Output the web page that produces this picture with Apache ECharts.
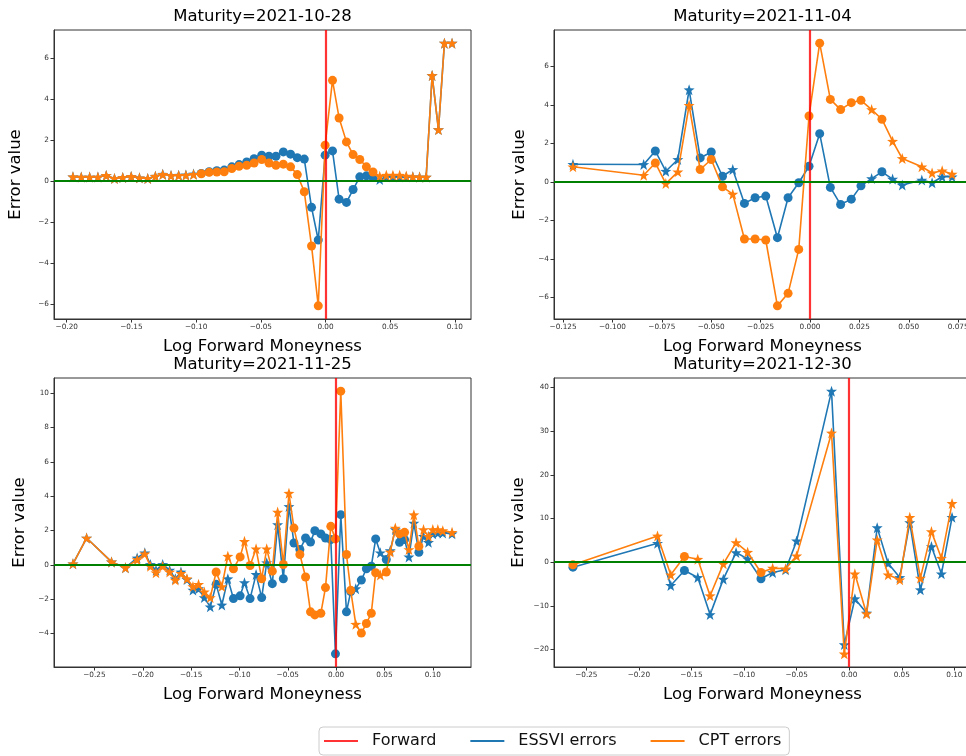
<!DOCTYPE html>
<html>
<head>
<meta charset="utf-8">
<script src="https://cdn.jsdelivr.net/npm/echarts@6/dist/echarts.min.js"></script>
<style>
  html, body { margin: 0; padding: 0; background: #fff; }
  #chart { width: 966px; height: 756px; }
</style>
</head>
<body>
<div id="chart"></div>
<script>
// ---- Maturity 2021-10-28 ----
const x1028 = [-0.1952, -0.1888, -0.1823, -0.1759, -0.1695, -0.1631, -0.1567, -0.1502, -0.1438, -0.1374,
  -0.1315, -0.1258, -0.1194, -0.1135, -0.1079, -0.1020, -0.0960, -0.0899, -0.0840, -0.0783,
  -0.0724, -0.0668, -0.0609, -0.0552, -0.0493, -0.0437, -0.0383, -0.0326, -0.0270, -0.0218,
  -0.0164, -0.0108, -0.0056, -0.0003, 0.0054, 0.0105, 0.0162, 0.0213, 0.0265, 0.0316,
  0.0367, 0.0419, 0.0470, 0.0521, 0.0573, 0.0624, 0.0675, 0.0727, 0.0778, 0.0824,
  0.0873, 0.0919, 0.0978];
const essvi1028 = [0.21, 0.20, 0.20, 0.20, 0.28, 0.13, 0.18, 0.23, 0.16, 0.13,
  0.24, 0.34, 0.28, 0.29, 0.30, 0.35, 0.38, 0.46, 0.51, 0.54,
  0.70, 0.81, 0.94, 1.10, 1.27, 1.22, 1.22, 1.43, 1.32, 1.15,
  1.08, -1.28, -2.88, 1.27, 1.48, -0.88, -1.04, -0.41, 0.21, 0.26,
  0.18, 0.08, 0.21, 0.21, 0.21, 0.21, 0.21, 0.20, 0.20, 5.17,
  2.52, 6.75, 6.75];
const cpt1028 = [0.21, 0.20, 0.20, 0.20, 0.28, 0.13, 0.18, 0.23, 0.16, 0.13,
  0.24, 0.33, 0.27, 0.28, 0.29, 0.33, 0.36, 0.43, 0.45, 0.46,
  0.62, 0.73, 0.78, 0.89, 1.06, 0.89, 0.78, 0.83, 0.70, 0.32,
  -0.52, -3.17, -6.10, 1.76, 4.93, 3.09, 1.92, 1.30, 1.06, 0.70,
  0.45, 0.24, 0.29, 0.29, 0.29, 0.25, 0.21, 0.20, 0.20, 5.17,
  2.52, 6.75, 6.75];
// marker per point: 'o' circle, '*' star
const mkEssvi1028 = '****************' + 'ooooooooooooooooooooooooo' + '************';
const mkCpt1028 = mkEssvi1028;

// ---- Maturity 2021-11-04 ----
const x1104 = [-0.1200, -0.0842, -0.0783, -0.0730, -0.0669, -0.0612, -0.0556, -0.0500, -0.0443, -0.0391,
  -0.0332, -0.0278, -0.0224, -0.0165, -0.0111, -0.0057, -0.0005, 0.0049, 0.0103, 0.0155,
  0.0209, 0.0258, 0.0312, 0.0364, 0.0418, 0.0467, 0.0566, 0.0618, 0.0669, 0.0719];
const essvi1104 = [0.92, 0.91, 1.61, 0.56, 1.17, 4.79, 1.25, 1.56, 0.30, 0.65,
  -1.11, -0.82, -0.73, -2.89, -0.82, -0.04, 0.82, 2.51, -0.28, -1.17,
  -0.89, -0.20, 0.18, 0.53, 0.15, -0.16, 0.10, -0.04, 0.27, 0.27];
const cpt1104 = [0.79, 0.35, 0.99, -0.08, 0.53, 3.98, 0.65, 1.17, -0.25, -0.63,
  -2.96, -2.96, -3.01, -6.43, -5.78, -3.50, 3.43, 7.21, 4.29, 3.76,
  4.12, 4.24, 3.76, 3.26, 2.12, 1.22, 0.79, 0.47, 0.58, 0.41];
const mkEssvi1104 = '**o***ooo*oooooooooooo*o******';
const mkCpt1104 = mkEssvi1104;

// ---- Maturity 2021-11-25 ----
const x1125 = [-0.2722, -0.2581, -0.2323, -0.2179, -0.2058, -0.1979, -0.1921, -0.1863, -0.1794, -0.1722,
  -0.1663, -0.1605, -0.1543, -0.1481, -0.1423, -0.1364, -0.1302, -0.1241, -0.1182, -0.1120,
  -0.1062, -0.0993, -0.0948, -0.0890, -0.0828, -0.0770, -0.0718, -0.0660, -0.0605, -0.0546,
  -0.0488, -0.0436, -0.0375, -0.0316, -0.0265, -0.0220, -0.0158, -0.0110, -0.0055, -0.0007,
  0.0048, 0.0107, 0.0151, 0.0203, 0.0261, 0.0313, 0.0364, 0.0409, 0.0457, 0.0519,
  0.0560, 0.0612, 0.0656, 0.0708, 0.0753, 0.0804, 0.0856, 0.0904, 0.0955, 0.1000,
  0.1052, 0.1103, 0.1199];
const essvi1125 = [0.06, 1.56, 0.17, -0.17, 0.40, 0.70, 0.02, -0.31, 0.02, -0.31,
  -0.81, -0.42, -0.85, -1.47, -1.39, -1.91, -2.45, -1.14, -2.34, -0.81,
  -1.97, -1.81, -1.04, -1.97, -0.56, -1.91, 0.12, -1.10, 2.34, -0.81,
  3.40, 1.27, 0.89, 1.56, 1.33, 1.99, 1.80, 1.56, 1.47, -5.19,
  2.92, -2.74, -1.56, -1.39, -0.89, -0.23, -0.08, 1.51, 0.70, 0.31,
  0.83, 2.05, 1.31, 1.47, 0.46, 2.43, 0.73, 1.66, 1.31, 1.81,
  1.85, 1.85, 1.81];
const cpt1125 = [0.06, 1.56, 0.17, -0.17, 0.30, 0.64, -0.08, -0.46, -0.08, -0.42,
  -0.89, -0.50, -0.81, -1.27, -1.14, -1.58, -1.91, -0.42, -1.27, 0.50,
  -0.23, 0.46, 1.37, -0.04, 0.93, -0.81, 0.93, -0.37, 3.07, 0.02,
  4.17, 2.14, 0.60, -0.71, -2.74, -2.92, -2.82, -1.33, 2.24, 1.51,
  10.12, 0.60, -1.49, -3.46, -3.98, -3.42, -2.82, -0.46, -0.60, -0.42,
  0.75, 2.14, 1.80, 1.89, 0.89, 2.92, 1.08, 2.05, 1.66, 2.05,
  2.05, 1.99, 1.89];
const mkEssvi1125 = '*****************o*' + '*oo*o*o*o*o*' + 'oooooooooooo' + '*oooo*o**oo**o*****';
const mkCpt1125 = mkEssvi1125;

// ---- Maturity 2021-12-30 ----
const x1230 = [-0.2627, -0.1823, -0.1697, -0.1567, -0.1440, -0.1323, -0.1197, -0.1076, -0.0966, -0.0839,
  -0.0728, -0.0605, -0.0500, -0.0168, -0.0047, 0.0054, 0.0165, 0.0266, 0.0370, 0.0481,
  0.0576, 0.0677, 0.0782, 0.0877, 0.0978];
const essvi1230 = [-1.14, 4.33, -5.32, -1.90, -3.50, -12.0, -3.88, 2.20, 0.76, -3.80,
  -2.36, -1.75, 4.87, 39.16, -18.86, -8.37, -11.63, 7.91, -0.23, -3.50,
  9.05, -6.31, 3.57, -2.66, 10.27];
const cpt1230 = [-0.61, 6.00, -2.89, 1.29, 0.68, -7.68, -0.38, 4.49, 2.28, -2.36,
  -1.37, -1.52, 1.44, 29.58, -20.99, -2.66, -11.79, 5.10, -2.89, -4.03,
  10.27, -3.65, 7.00, 0.91, 13.46];
const mkEssvi1230 = 'o**o*****o***************';
const mkCpt1230 = mkEssvi1230;

// ---- tick positions ----
const xTicks1028 = [-0.20, -0.15, -0.10, -0.05, 0.00, 0.05, 0.10];
const yTicks1028 = [-6, -4, -2, 0, 2, 4, 6];
const xTicks1104 = [-0.125, -0.100, -0.075, -0.050, -0.025, 0.000, 0.025, 0.050, 0.075];
const yTicks1104 = [-6, -4, -2, 0, 2, 4, 6];
const xTicks1125 = [-0.25, -0.20, -0.15, -0.10, -0.05, 0.00, 0.05, 0.10];
const yTicks1125 = [-4, -2, 0, 2, 4, 6, 8, 10];
const xTicks1230 = [-0.25, -0.20, -0.15, -0.10, -0.05, 0.00, 0.05, 0.10];
const yTicks1230 = [-20, -10, 0, 10, 20, 30, 40];

const maturities = ['2021-10-28', '2021-11-04', '2021-11-25', '2021-12-30'];
const legendNames = ['Forward', 'ESSVI errors', 'CPT errors'];

// ---- styling ----
const FONT = 'DejaVu Sans';
const BLUE = '#1f77b4';
const ORANGE = '#ff7f0e';
const RED = 'rgba(255,0,0,0.8)';
const GREEN = '#008000';
const AXIS = '#333333';
const STAR = 'path://M0,-10 L2.35,-3.24 L9.51,-3.09 L3.8,1.24 L5.88,8.09 L0,4 L-5.88,8.09 L-3.8,1.24 L-9.51,-3.09 L-2.35,-3.24 Z';

const panels = [
  { x: x1028, e: essvi1028, c: cpt1028, me: mkEssvi1028, mc: mkCpt1028, xt: xTicks1028, yt: yTicks1028, xd: 2,
    left: 54, top: 30, yGap: 30 },
  { x: x1104, e: essvi1104, c: cpt1104, me: mkEssvi1104, mc: mkCpt1104, xt: xTicks1104, yt: yTicks1104, xd: 3,
    left: 554, top: 30, yGap: 26 },
  { x: x1125, e: essvi1125, c: cpt1125, me: mkEssvi1125, mc: mkCpt1125, xt: xTicks1125, yt: yTicks1125, xd: 2,
    left: 54, top: 378, yGap: 26 },
  { x: x1230, e: essvi1230, c: cpt1230, me: mkEssvi1230, mc: mkCpt1230, xt: xTicks1230, yt: yTicks1230, xd: 2,
    left: 554, top: 378, yGap: 27 }
];
const PW = 417, PH = 289;

// matplotlib-style tick text (unicode minus)
function fmt(v, d) {
  const s = Math.abs(v).toFixed(d);
  return (v < -1e-12 ? '\u2212' : '') + s;
}
// autoscale with 5% margins
function extent(vals) {
  let lo = Math.min.apply(null, vals), hi = Math.max.apply(null, vals);
  const m = (hi - lo) * 0.05;
  return [lo - m, hi + m];
}
function points(xs, ys, marks) {
  return xs.map((xv, i) => {
    const circ = marks.charAt(i) === 'o';
    return { value: [xv, ys[i]], symbol: circ ? 'circle' : STAR, symbolSize: circ ? 9 : 11 };
  });
}

const grids = [], xAxes = [], yAxes = [], series = [], titles = [];
panels.forEach((p, i) => {
  grids.push({ left: p.left, top: p.top, width: PW, height: PH, show: true, borderColor: AXIS, borderWidth: 1,
    backgroundColor: 'transparent', containLabel: false, outerBoundsMode: 'none' });
  const xe = extent(p.x);
  const ye = extent(p.e.concat(p.c, [0]));
  xAxes.push({
    type: 'value', gridIndex: i, min: xe[0], max: xe[1],
    name: 'Log Forward Moneyness', nameLocation: 'middle', nameGap: 19,
    nameTextStyle: { fontFamily: FONT, fontSize: 16.5, color: '#000' },
    axisLine: { show: true, onZero: false, lineStyle: { color: AXIS, width: 1 } },
    axisTick: { show: true, length: 3.5, lineStyle: { color: AXIS, width: 1 }, customValues: p.xt },
    axisLabel: { customValues: p.xt, formatter: v => fmt(v, p.xd), fontFamily: FONT, fontSize: 7.3,
      color: '#333', margin: 5 },
    splitLine: { show: false }
  });
  yAxes.push({
    type: 'value', gridIndex: i, min: ye[0], max: ye[1],
    name: 'Error value', nameLocation: 'middle', nameGap: p.yGap,
    nameTextStyle: { fontFamily: FONT, fontSize: 16.5, color: '#000' },
    axisLine: { show: true, onZero: false, lineStyle: { color: AXIS, width: 1 } },
    axisTick: { show: true, length: 3.5, lineStyle: { color: AXIS, width: 1 }, customValues: p.yt },
    axisLabel: { customValues: p.yt, formatter: v => fmt(v, 0), fontFamily: FONT, fontSize: 7.3,
      color: '#333', margin: 5 },
    splitLine: { show: false }
  });
  titles.push({
    text: 'Maturity=' + maturities[i], left: p.left + PW / 2, top: p.top - 22, textAlign: 'center', padding: 0,
    textStyle: { fontFamily: FONT, fontSize: 16.5, fontWeight: 'normal', color: '#000' }
  });
  series.push({
    type: 'line', name: legendNames[1], xAxisIndex: i, yAxisIndex: i, z: 2,
    data: points(p.x, p.e, p.me), showAllSymbol: true,
    itemStyle: { color: BLUE, borderWidth: 0 }, lineStyle: { color: BLUE, width: 1.6 },
    emphasis: { disabled: true }
  });
  series.push({
    type: 'line', name: legendNames[2], xAxisIndex: i, yAxisIndex: i, z: 3,
    data: points(p.x, p.c, p.mc), showAllSymbol: true,
    itemStyle: { color: ORANGE, borderWidth: 0 }, lineStyle: { color: ORANGE, width: 1.6 },
    emphasis: { disabled: true }
  });
  // forward (x = 0) and zero-error reference lines
  series.push({
    type: 'line', name: legendNames[0], xAxisIndex: i, yAxisIndex: i, z: 5,
    data: [], itemStyle: { color: RED }, lineStyle: { color: RED },
    markLine: {
      silent: true, symbol: 'none', animation: false, label: { show: false },
      data: [
        { xAxis: 0, lineStyle: { color: RED, width: 2.2, type: 'solid' } },
        { yAxis: 0, lineStyle: { color: GREEN, width: 2.2, type: 'solid' } }
      ]
    }
  });
});

const chart = echarts.init(document.getElementById('chart'), null, { renderer: 'canvas' });
chart.setOption({
  animation: false,
  backgroundColor: '#fff',
  title: titles,
  grid: grids,
  xAxis: xAxes,
  yAxis: yAxes,
  series: series,
  legend: {
    data: legendNames, left: 319, top: 727, orient: 'horizontal',
    icon: 'rect', itemWidth: 34, itemHeight: 2, itemGap: 34,
    padding: [6, 8, 6, 5], borderColor: '#cccccc', borderWidth: 1, borderRadius: 4, backgroundColor: '#fff',
    textStyle: { fontFamily: FONT, fontSize: 16, color: '#111', padding: [0, 0, 0, 9] },
    selectedMode: false
  }
});
</script>
</body>
</html>
